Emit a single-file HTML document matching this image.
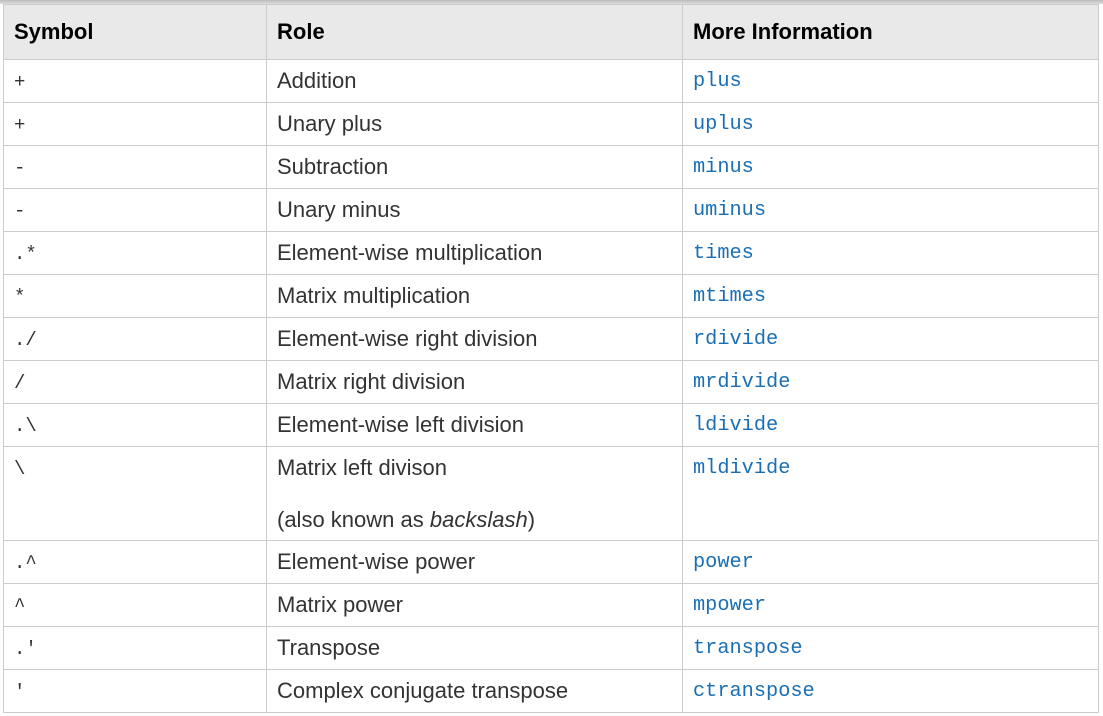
<!DOCTYPE html>
<html><head><meta charset="utf-8"><style>
html,body{margin:0;padding:0;background:#fff;width:1103px;height:716px;overflow:hidden}
.bar{position:absolute;left:0;top:0;width:1103px;height:4px;background:linear-gradient(#bbb,#ddd)}
table{position:absolute;left:3px;top:4px;border-collapse:collapse;table-layout:fixed;font-family:"Liberation Sans",Arial,sans-serif;font-size:22px;color:#333}
td,th{border:1px solid #ccc;padding:0 10px;height:42px;vertical-align:top;line-height:24px;padding-top:9px;box-sizing:border-box;text-align:left;white-space:nowrap}
th{background:#e9e9e9;color:#000;font-weight:bold;height:55px;padding-top:15px}
td.s{font-family:"Liberation Mono",monospace;font-size:19px;color:#333;padding-top:10px}
td.c{font-family:"Liberation Mono",monospace;font-size:20.3px;color:#1a6fb4;padding-top:10px}
tr{height:43px}
</style></head><body>
<div class="bar"></div>
<table>
<colgroup><col style="width:263px"><col style="width:416px"><col style="width:416px"></colgroup>
<tr style="height:55px"><th>Symbol</th><th>Role</th><th>More Information</th></tr>
<tr><td class="s">+</td><td>Addition</td><td class="c">plus</td></tr>
<tr><td class="s">+</td><td>Unary plus</td><td class="c">uplus</td></tr>
<tr><td class="s">-</td><td>Subtraction</td><td class="c">minus</td></tr>
<tr><td class="s">-</td><td>Unary minus</td><td class="c">uminus</td></tr>
<tr><td class="s">.*</td><td>Element-wise multiplication</td><td class="c">times</td></tr>
<tr><td class="s">*</td><td>Matrix multiplication</td><td class="c">mtimes</td></tr>
<tr><td class="s">./</td><td>Element-wise right division</td><td class="c">rdivide</td></tr>
<tr><td class="s">/</td><td>Matrix right division</td><td class="c">mrdivide</td></tr>
<tr><td class="s">.\</td><td>Element-wise left division</td><td class="c">ldivide</td></tr>
<tr style="height:94px"><td class="s">\</td><td>Matrix left divison<div style="margin-top:28px">(also known as <i>backslash</i>)</div></td><td class="c">mldivide</td></tr>
<tr><td class="s">.^</td><td>Element-wise power</td><td class="c">power</td></tr>
<tr><td class="s">^</td><td>Matrix power</td><td class="c">mpower</td></tr>
<tr><td class="s">.'</td><td>Transpose</td><td class="c">transpose</td></tr>
<tr><td class="s">'</td><td>Complex conjugate transpose</td><td class="c">ctranspose</td></tr>
</table>
</body></html>
